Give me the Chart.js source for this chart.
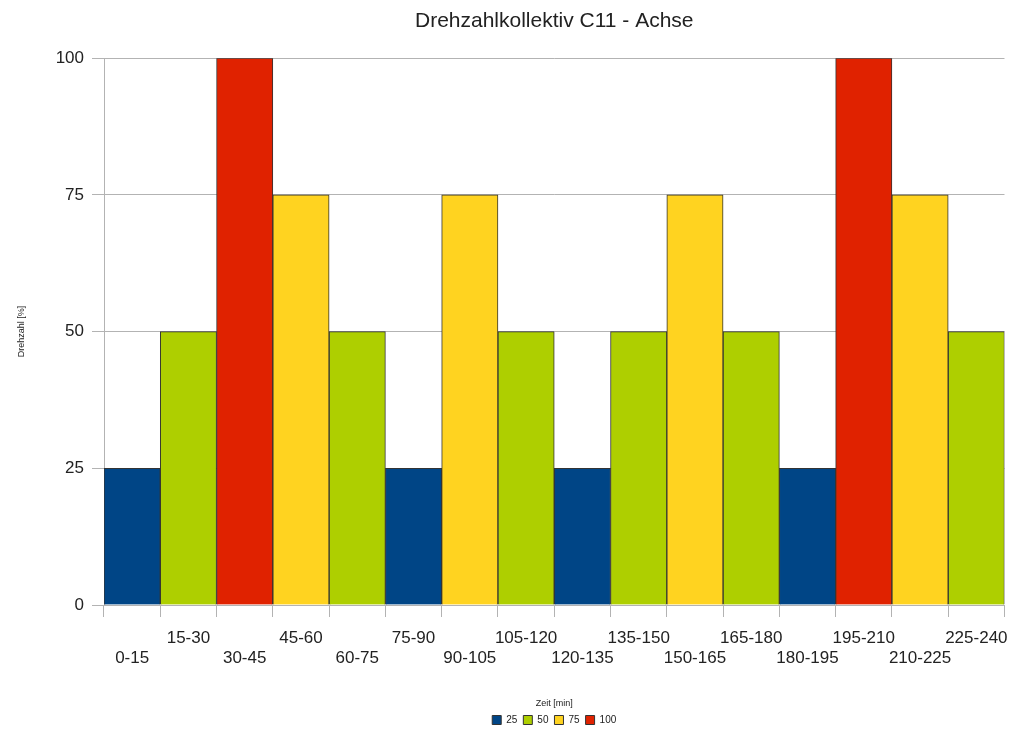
<!DOCTYPE html>
<html>
<head>
<meta charset="utf-8">
<script src="https://cdn.jsdelivr.net/npm/chart.js@4"></script>
<style>
  html, body { margin: 0; padding: 0; background: #fff; }
  #wrap { width: 1019px; height: 735px; }
</style>
</head>
<body>
<div id="wrap"><canvas id="chart" width="1019" height="735"></canvas></div>
<script>
// Zeitfenster in Minuten
const categories = ["0-15", "15-30", "30-45", "45-60", "60-75", "75-90", "90-105", "105-120",
  "120-135", "135-150", "150-165", "165-180", "180-195", "195-210", "210-225", "225-240"];
// Drehzahl je Zeitfenster [%]
const drehzahl = [25, 50, 100, 75, 50, 25, 75, 50, 25, 50, 75, 50, 25, 100, 75, 50];
const levels = [25, 50, 75, 100];
const levelColors = ["#004586", "#aecf00", "#ffd320", "#e02200"];
const yTicks = [0, 25, 50, 75, 100];

const font = "'Liberation Sans', Arial, sans-serif";

// one dataset per level, only filled where the value matches
let datasets = levels.map((lvl, i) => ({
  label: String(lvl),
  data: drehzahl.map(v => v === lvl ? v : null),
  backgroundColor: levelColors[i],
  borderColor: "#333333",
  borderWidth: 1,
  barPercentage: 1.0,
  categoryPercentage: 1.0
}));

const ctx = document.getElementById("chart").getContext("2d");
new Chart(ctx, {
  type: "bar",
  data: { labels: categories, datasets: datasets },
  options: {
    responsive: false,
    animation: false,
    layout: { padding: { top: 5, right: 13, left: 12, bottom: 0 } },
    plugins: {
      title: {
        display: true,
        fullSize: false,
        text: "Drehzahlkollektiv C11 - Achse",
        color: "#222",
        font: { family: font, size: 21, weight: "normal" },
        padding: { top: 4, bottom: 24 }
      },
      legend: {
        position: "bottom",
        fullSize: false,
        labels: {
          boxWidth: 9, boxHeight: 9,
          color: "#222",
          font: { family: font, size: 10 },
          padding: 6
        }
      },
      tooltip: { enabled: false }
    },
    scales: {
      x: {
        stacked: true,
        grid: { offset: true, drawOnChartArea: false, tickLength: 12, color: "#b3b3b3" },
        border: { color: "#b3b3b3" },
        ticks: {
          autoSkip: false, maxRotation: 0, minRotation: 0,
          color: "#222",
          font: { family: font, size: 17, lineHeight: 1.2 },
          padding: 11,
          callback: function (value, index) {
            const lab = categories[index];
            return index % 2 === 0 ? ["", lab] : [lab, ""];
          }
        },
        title: {
          display: true, text: "Zeit [min]", color: "#222",
          font: { family: font, size: 9 }, padding: { top: 12, bottom: 0 }
        },
        afterFit: function (scale) { scale.height = 104; }
      },
      y: {
        stacked: true,
        min: 0, max: 100,
        afterBuildTicks: function (scale) { scale.ticks = yTicks.map(v => ({ value: v })); },
        grid: { color: "#b3b3b3", tickLength: 12 },
        border: { color: "#b3b3b3" },
        ticks: {
          color: "#222",
          font: { family: font, size: 17 },
          padding: 8
        },
        title: {
          display: true, text: "Drehzahl [%]", color: "#222",
          font: { family: font, size: 9 }, padding: { bottom: 14 }
        },
        afterFit: function (scale) { scale.width = 92; }
      }
    }
  }
});
</script>
</body>
</html>
